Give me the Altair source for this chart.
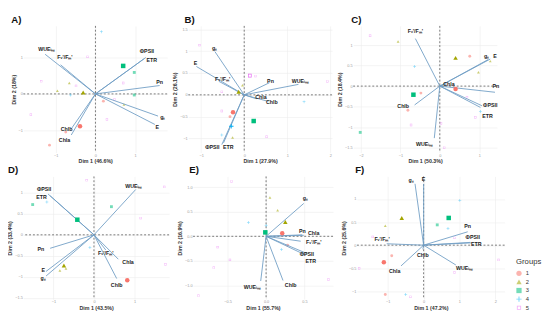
import altair as alt
import pandas as pd

GROUPS = ["1", "2", "3", "4", "5"]
COLORS = ["#F8766D", "#A3A500", "#00BF7D", "#00B0F6", "#E76BF3"]
CROSS = "M-1,-0.18H1V0.18H-1Z M-0.18,-1H0.18V1H-0.18Z"
OPEN_SQ = "M-0.8,-0.8H0.8V0.8H-0.8Z M-0.5,-0.5V0.5H0.5V-0.5Z"
SHAPES = ["circle", "triangle-up", "square", CROSS, OPEN_SQ]

LBL = {"WUE": "WUEᵢₙₛ", "Fv": "Fᵥ'/Fₘ'", "PSII": "ΦPSII", "ETR": "ETR", "Pn": "Pn",
       "gs": "gₛ", "E": "E", "Chla": "Chla", "Chlb": "Chlb"}
VARS = ["WUE", "Fv", "PSII", "ETR", "Pn", "gs", "E", "Chla", "Chlb"]
VARS_E = ["WUE", "Fv", "PSII", "ETR", "Pn", "gs", "Chla", "Chlb"]

# ---------- Panel A ----------
A_ax = [-1.27, -0.88, 1.27, 1.22, 1.62, 1.58, 1.50, -0.61, -0.61]
A_ay = [1.09, 0.80, 1.00, 0.96, 0.23, -0.61, -0.84, -1.13, -0.96]
A_lx = [-1.23, -0.77, 1.30, 1.42, 1.62, 1.70, 1.56, -0.78, -0.73]
A_ly = [1.22, 1.00, 1.19, 0.93, 0.32, -0.65, -0.90, -1.28, -0.98]
A_px = [0.15, 0.98, 0.98, 0.70, -0.20, -1.37, -0.66, -0.49, -0.96, -0.63, -1.63, -1.16, 0.29, 0.48, 0.72, -0.75, 0.20]
A_py = [1.71, 0.59, -0.03, 0.30, 1.02, 0.35, 0.30, 0.22, 0.09, -0.03, -0.57, -1.41, -0.70, -0.15, -0.29, -1.05, -0.20]
A_pg = ["4", "3", "3", "5", "5", "5", "2", "5", "2", "4", "5", "1", "5", "5", "2", "1", "1"]
A_mx = [-0.39, -0.31, 0.70]
A_my = [-0.89, 0.04, 0.77]
A_mg = ["1", "2", "3"]

# ---------- Panel B ----------
B_ax = [1.26, -0.59, -0.52, -0.48, 0.59, -0.68, -1.11, 0.28, 0.56]
B_ay = [0.24, 0.31, -1.14, -1.10, 0.28, 0.99, 0.65, -0.09, -0.15]
B_lx = [1.30, -0.50, -0.74, -0.37, 0.61, -0.69, -1.13, 0.39, 0.64]
B_ly = [0.31, 0.35, -1.19, -1.19, 0.32, 1.07, 0.72, -0.06, -0.17]
B_px = [-0.52, -0.33, -0.52, -0.27, 1.39, 1.93, 0.52, -0.04, -1.04, -0.52, 0.26]
B_py = [-0.92, -0.50, -0.37, -0.98, -0.16, 0.31, -0.96, 0.22, 1.14, 0.07, 0.43]
B_pg = ["4", "1", "5", "2", "4", "5", "5", "2", "5", "5", "5"]
B_mx = [-0.26, -0.13, 0.22, -0.30, 0.13]
B_my = [-0.40, 0.07, -0.60, -0.72, 0.44]
B_mg = ["1", "2", "3", "4", "5"]

# ---------- Panel C ----------
C_ax = [-0.14, -0.62, 1.07, 1.03, 1.40, 1.23, 1.28, 0.17, -0.64]
C_ay = [-1.27, 1.16, -0.48, -0.52, -0.15, 0.65, 0.66, 0.05, -0.46]
C_lx = [-0.39, -0.62, 1.28, 1.21, 1.42, 1.19, 1.40, 0.23, -0.93]
C_ly = [-1.42, 1.34, -0.46, -0.74, 0.00, 0.74, 0.74, 0.06, -0.48]
C_px = [-2.02, 0.76, 0.98, 1.28, 0.90, 0.69, -1.06, -1.77, -0.81, -0.73, 0.03, 0.11, -0.48, 1.03, -0.64]
C_py = [-1.13, 0.73, 0.34, 0.61, -0.76, -0.27, 1.09, 1.23, -0.59, -0.95, -0.91, -1.50, -0.17, -0.62, 0.48]
C_pg = ["3", "1", "2", "2", "5", "5", "2", "5", "1", "5", "5", "5", "1", "4", "4"]
C_mx = [0.40, 0.40, -0.67]
C_my = [-0.07, 0.69, -0.21]
C_mg = ["1", "2", "3"]

# ---------- Panel D ----------
D_ax = [1.03, 0.29, -1.13, -1.08, -1.08, -1.18, -1.18, 0.60, 0.56]
D_ay = [1.08, -0.36, 0.97, 0.93, -0.32, -0.98, -0.87, -0.58, -1.04]
D_lx = [0.98, 0.29, -1.23, -1.29, -1.31, -1.25, -1.25, 0.84, 0.56]
D_ly = [1.16, -0.43, 1.08, 0.91, -0.33, -1.02, -0.83, -0.66, -1.19]
D_px = [-1.51, 0.43, -0.84, -0.69, -0.10, 1.15, 1.73, 1.76, -0.18, -1.16]
D_py = [0.72, 0.67, -0.85, -0.80, -0.30, 0.40, 1.14, -0.70, 1.30, 0.78]
D_pg = ["3", "3", "2", "2", "4", "5", "5", "5", "5", "4"]
D_mx = [0.82, -0.74, -0.41]
D_my = [-1.08, -0.73, 0.36]
D_mg = ["1", "2", "3"]

# ---------- Panel E ----------
E_ax = [-0.07, 0.45, 0.53, 0.51, 0.47, 0.49, 0.49, 0.22]
E_ay = [-0.91, -0.10, -0.35, -0.38, 0.03, 0.67, 0.02, -0.90]
E_lx = [-0.18, 0.62, 0.53, 0.58, 0.47, 0.51, 0.62, 0.32]
E_ly = [-1.04, -0.12, -0.37, -0.51, 0.10, 0.77, 0.06, -0.99]
E_px = [-0.23, 0.00, 0.05, 0.15, 0.20, -0.45, -0.63, -0.47, -0.68, -0.88, 0.81, 0.28]
E_py = [0.28, 0.22, 0.79, 0.53, -0.27, 1.12, -0.22, -0.48, -0.64, -1.21, -0.88, -0.18]
E_pg = ["4", "4", "2", "2", "4", "5", "5", "5", "5", "5", "5", "1"]
E_mx = [0.21, 0.25, -0.01]
E_my = [0.06, 0.29, 0.08]
E_mg = ["1", "2", "3"]

# ---------- Panel F ----------
F_ax = [0.90, -1.03, 1.30, 1.34, 1.23, -0.24, 0.00, -0.63, -0.02]
F_ay = [-0.43, 0.03, 0.06, 0.05, 0.29, 1.33, 1.33, -0.45, -0.09]
F_lx = [1.14, -1.16, 1.37, 1.47, 1.23, -0.35, 0.00, -0.81, -0.02]
F_ly = [-0.50, 0.13, 0.18, 0.03, 0.41, 1.41, 1.43, -0.57, -0.22]
F_px = [0.38, 0.68, 1.01, -0.89, -1.07, -1.42, 0.86, 0.86, 2.09, -1.80, -0.37, -0.50, -1.07]
F_py = [0.44, 0.36, 0.97, -0.23, 0.42, 0.18, 0.16, -0.59, -0.32, -0.50, -1.12, -1.07, -1.07]
F_pg = ["3", "4", "4", "1", "2", "5", "5", "5", "5", "5", "5", "4", "1"]
F_mx = [-1.11, -0.61, 0.70]
F_my = [-0.37, 0.59, 0.59]
F_mg = ["1", "2", "3"]

color_scale = alt.Scale(domain=GROUPS, range=COLORS)
shape_scale = alt.Scale(domain=GROUPS, range=SHAPES)
LEG = alt.Legend(title="Groups", orient="none", legendX=514, legendY=242)

ARROW = "#6E9CC4"


def panel(letter, xt, yt, xdom, ydom, xticks, yticks, vars_, ax, ay, lx, ly,
          px, py, pg, mx, my, mg, w, h, tdx=0, fmt="~g"):
    xs = alt.Scale(domain=xdom, nice=False, zero=False)
    ys = alt.Scale(domain=ydom, nice=False, zero=False)
    xa = alt.Axis(title=xt, values=xticks, format=fmt)
    ya = alt.Axis(title=yt, values=yticks, format=fmt)
    zero = pd.DataFrame({"z": [0.0]})
    arrows = pd.DataFrame({"x0": [0.0] * len(vars_), "y0": [0.0] * len(vars_),
                           "x": ax, "y": ay, "lx": lx, "ly": ly,
                           "lbl": [LBL[v] for v in vars_]})
    pts = pd.DataFrame({"x": px, "y": py, "g": pg})
    means = pd.DataFrame({"x": mx, "y": my, "g": mg})

    vline = alt.Chart(zero).mark_rule(color="#555", strokeDash=[2, 2], strokeWidth=0.8).encode(
        x=alt.X("z:Q", scale=xs, axis=xa))
    hline = alt.Chart(zero).mark_rule(color="#555", strokeDash=[2, 2], strokeWidth=0.8).encode(
        y=alt.Y("z:Q", scale=ys, axis=ya))
    ind = alt.Chart(pts).mark_point(filled=True, size=9, opacity=0.55).encode(
        x=alt.X("x:Q", scale=xs, axis=xa), y=alt.Y("y:Q", scale=ys, axis=ya),
        color=alt.Color("g:N", scale=color_scale, legend=LEG),
        shape=alt.Shape("g:N", scale=shape_scale, legend=LEG))
    mean = alt.Chart(means).mark_point(filled=True, size=22, opacity=1).encode(
        x=alt.X("x:Q", scale=xs, axis=xa), y=alt.Y("y:Q", scale=ys, axis=ya),
        color=alt.Color("g:N", scale=color_scale, legend=LEG),
        shape=alt.Shape("g:N", scale=shape_scale, legend=LEG))
    rules = alt.Chart(arrows).mark_rule(color=ARROW, strokeWidth=1, opacity=0.9).encode(
        x=alt.X("x0:Q", scale=xs, axis=xa), y=alt.Y("y0:Q", scale=ys, axis=ya),
        x2="x:Q", y2="y:Q")
    texts = alt.Chart(arrows).mark_text(fontSize=5.5, fontWeight="bold", color="#222",
                                        font="Liberation Sans").encode(
        x=alt.X("lx:Q", scale=xs, axis=xa), y=alt.Y("ly:Q", scale=ys, axis=ya),
        text="lbl:N")
    return alt.layer(vline, hline, ind, rules, mean, texts).properties(
        width=w, height=h,
        title=alt.TitleParams(letter, anchor="start", fontSize=10, fontWeight="bold",
                              font="Liberation Sans", offset=1, color="#111", dx=tdx))


pA = panel("A)", "Dim 1 (46.6%)", "Dim 2 (18%)", [-1.82, 1.81], [-1.61, 1.87],
           [-1, 0, 1], [-1, 0, 1], VARS, A_ax, A_ay, A_lx, A_ly,
           A_px, A_py, A_pg, A_mx, A_my, A_mg, 150, 132)
pB = panel("B)", "Dim 1 (27.9%)", "Dim 2 (26.1%)", [-1.30, 2.04], [-1.32, 1.58],
           [-1, 0, 1, 2], [-1, -0.5, 0, 0.5, 1, 1.5], VARS, B_ax, B_ay, B_lx, B_ly,
           B_px, B_py, B_pg, B_mx, B_my, B_mg, 150, 132, tdx=12)
pC = panel("C)", "Dim 1 (50.3%)", "Dim 2 (18.4%)", [-2.2, 1.45], [-1.62, 1.47],
           [-2, -1, 0, 1], [-1.5, -1, -0.5, 0, 0.5, 1], VARS, C_ax, C_ay, C_lx, C_ly,
           C_px, C_py, C_pg, C_mx, C_my, C_mg, 150, 132, tdx=14)
pD = panel("D)", "Dim 1 (43.5%)", "Dim 2 (33.4%)", [-1.74, 1.85], [-1.53, 1.39],
           [-1, 0, 1], [-1.5, -1, -0.5, 0, 0.5, 1], VARS, D_ax, D_ay, D_lx, D_ly,
           D_px, D_py, D_pg, D_mx, D_my, D_mg, 152, 128)
pE = panel("E)", "Dim 1 (55.7%)", "Dim 2 (16.9%)", [-0.95, 0.87], [-1.28, 1.22],
           [-0.5, 0, 0.5], [-1, -0.5, 0, 0.5, 1], VARS_E, E_ax, E_ay, E_lx, E_ly,
           E_px, E_py, E_pg, E_mx, E_my, E_mg, 146, 128, tdx=12, fmt=".1f")
pF = panel("F)", "Dim 1 (47.2%)", "Dim 2 (25.6%)", [-1.86, 2.26], [-1.17, 1.49],
           [-1, 0, 1, 2], [-1, -0.5, 0, 0.5, 1], VARS, F_ax, F_ay, F_lx, F_ly,
           F_px, F_py, F_pg, F_mx, F_my, F_mg, 154, 128, tdx=14)

top = alt.hconcat(pA, pB, pC, spacing=5)
bottom = alt.hconcat(pD, pE, pF, spacing=8)

chart = alt.vconcat(top, bottom, spacing=0).properties(padding=0).configure(
    background="white", font="Liberation Sans"
).configure_view(stroke=None).configure_axis(
    grid=True, gridColor="#ececec", gridWidth=0.6, domain=False, ticks=False,
    labelFontSize=4, labelColor="#9a9a9a", labelPadding=1,
    titleFontSize=5.5, titleFontWeight="bold", titleColor="#333", titlePadding=2
).configure_legend(
    titleFontSize=8, titleFontWeight="normal", titleColor="#333",
    labelFontSize=6, labelColor="#333", symbolSize=30, rowPadding=3,
    symbolStrokeWidth=0
)

chart.save("out.html", embed_options={"renderer": "svg", "actions": False})
